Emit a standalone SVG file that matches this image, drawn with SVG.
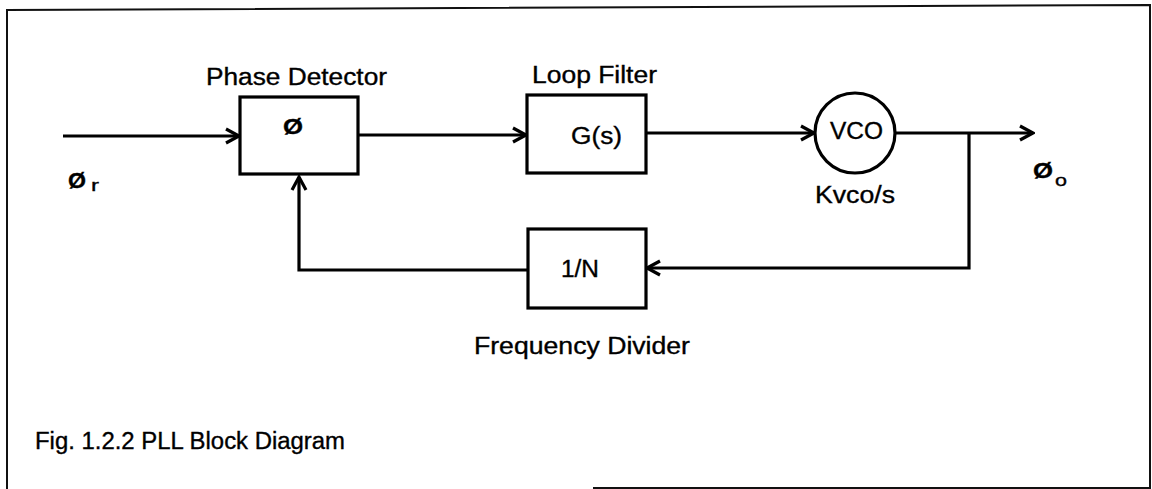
<svg xmlns="http://www.w3.org/2000/svg" width="1152" height="489" viewBox="0 0 1152 489">
<style>
  text { font-family: "Liberation Sans", Arial, sans-serif; fill: #000; stroke: #000; stroke-width: 0.35; }
  .lbl { font-size: 23px; }
  .sym { font-size: 22px; font-weight: bold; }
  .sub { font-size: 17px; }
  .blk { fill: #fff; stroke: #000; stroke-width: 3.2; }
  .wire { fill: none; stroke: #000; stroke-width: 3.2; }
  .frame { fill: none; stroke: #111; stroke-width: 2; }
</style>
<defs>
  <marker id="arr" markerUnits="userSpaceOnUse" viewBox="-16 -10 18 20" refX="0" refY="0" markerWidth="18" markerHeight="20" orient="auto">
    <path d="M-13,-7 L0,0 L-13,7" fill="none" stroke="#000" stroke-width="3.2" stroke-linejoin="miter"/>
  </marker>
</defs>
<rect width="1152" height="489" fill="#fff"/>
<path class="frame" d="M7,489 L7,10 L1150,5 L1150,488 L593,488"/>

<g id="connectors">
  <line class="wire" x1="63" y1="136" x2="239" y2="136" marker-end="url(#arr)"/>
  <line class="wire" x1="358" y1="135" x2="526" y2="135" marker-end="url(#arr)"/>
  <line class="wire" x1="646" y1="133" x2="814" y2="133" marker-end="url(#arr)"/>
  <line class="wire" x1="895" y1="133" x2="1033" y2="133" marker-end="url(#arr)"/>
  <polyline class="wire" points="969,133 969,268 647,268" marker-end="url(#arr)"/>
  <polyline class="wire" points="528,270 299,270 299,177" marker-end="url(#arr)"/>
</g>

<g id="phase-detector">
  <rect class="blk" x="240" y="97" width="118" height="77"/>
  <text class="sym" x="283" y="134" textLength="20" lengthAdjust="spacingAndGlyphs">Ø</text>
  <text class="lbl" x="206" y="85" textLength="181" lengthAdjust="spacingAndGlyphs">Phase Detector</text>
</g>

<g id="loop-filter">
  <rect class="blk" x="527" y="95" width="119" height="78"/>
  <text class="lbl" x="571" y="144" font-size="25" textLength="51" lengthAdjust="spacingAndGlyphs">G(s)</text>
  <text class="lbl" x="532" y="83" textLength="125" lengthAdjust="spacingAndGlyphs">Loop Filter</text>
</g>

<g id="vco">
  <circle cx="855" cy="133" r="40" fill="#fff" stroke="#000" stroke-width="3.2"/>
  <text class="lbl" x="830" y="139" textLength="53" lengthAdjust="spacingAndGlyphs">VCO</text>
  <text class="lbl" x="815" y="203" textLength="80" lengthAdjust="spacingAndGlyphs">Kvco/s</text>
</g>

<g id="frequency-divider">
  <rect class="blk" x="528" y="229" width="118" height="79"/>
  <text class="lbl" x="561" y="277" font-size="24" textLength="38" lengthAdjust="spacingAndGlyphs">1/N</text>
  <text class="lbl" x="474" y="354" textLength="216" lengthAdjust="spacingAndGlyphs">Frequency Divider</text>
</g>

<g id="input">
  <text class="sym" x="68" y="188" textLength="18" lengthAdjust="spacingAndGlyphs">Ø</text>
  <text class="sub" x="91" y="191" textLength="8" lengthAdjust="spacingAndGlyphs">r</text>
</g>

<g id="output">
  <text class="sym" x="1033" y="178" textLength="20" lengthAdjust="spacingAndGlyphs">Ø</text>
  <text class="sub" x="1055" y="186" textLength="12" lengthAdjust="spacingAndGlyphs">o</text>
</g>

<g id="caption">
  <text class="lbl" x="35" y="449" textLength="310" lengthAdjust="spacingAndGlyphs">Fig. 1.2.2 PLL Block Diagram</text>
</g>
</svg>
